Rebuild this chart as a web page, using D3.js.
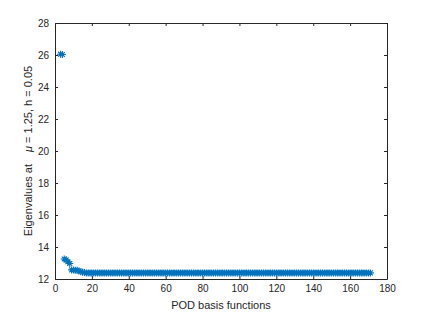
<!DOCTYPE html>
<html>
<head>
<meta charset="utf-8">
<script src="https://cdn.jsdelivr.net/npm/d3@7"></script>
<style>
  body { margin: 0; background: #fff; }
  text { font-family: "Liberation Sans", Arial, sans-serif; }
</style>
</head>
<body>
<svg id="figure"></svg>
<script>
var fullWidth = 428;
var fullHeight = 315;

var margin = { top: 23, right: 41, bottom: 36, left: 55 };
var width = fullWidth - margin.left - margin.right;
var height = fullHeight - margin.top - margin.bottom;

// eigenvalue index of the first point
var firstIndex = 3;

var eigenValues = [
  26.05, 26.03, 13.25, 13.20, 13.08, 12.97, 12.57, 12.56, 12.55, 12.54,
  12.50, 12.46, 12.42, 12.40, 12.38, 12.38, 12.38, 12.38, 12.38, 12.38,
  12.38, 12.38, 12.38, 12.38, 12.38, 12.38, 12.38, 12.38, 12.38, 12.38,
  12.38, 12.38, 12.38, 12.38, 12.38, 12.38, 12.38, 12.38, 12.38, 12.38,
  12.38, 12.38, 12.38, 12.38, 12.38, 12.38, 12.38, 12.38, 12.38, 12.38,
  12.38, 12.38, 12.38, 12.38, 12.38, 12.38, 12.38, 12.38, 12.38, 12.38,
  12.38, 12.38, 12.38, 12.38, 12.38, 12.38, 12.38, 12.38, 12.38, 12.38,
  12.38, 12.38, 12.38, 12.38, 12.38, 12.38, 12.38, 12.38, 12.38, 12.38,
  12.38, 12.38, 12.38, 12.38, 12.38, 12.38, 12.38, 12.38, 12.38, 12.38,
  12.38, 12.38, 12.38, 12.38, 12.38, 12.38, 12.38, 12.38, 12.38, 12.38,
  12.38, 12.38, 12.38, 12.38, 12.38, 12.38, 12.38, 12.38, 12.38, 12.38,
  12.38, 12.38, 12.38, 12.38, 12.38, 12.38, 12.38, 12.38, 12.38, 12.38,
  12.38, 12.38, 12.38, 12.38, 12.38, 12.38, 12.38, 12.38, 12.38, 12.38,
  12.38, 12.38, 12.38, 12.38, 12.38, 12.38, 12.38, 12.38, 12.38, 12.38,
  12.38, 12.38, 12.38, 12.38, 12.38, 12.38, 12.38, 12.38, 12.38, 12.38,
  12.38, 12.38, 12.38, 12.38, 12.38, 12.38, 12.38, 12.38, 12.38, 12.38,
  12.38, 12.38, 12.38, 12.38, 12.38, 12.38, 12.38, 12.38, 12.38
];

var xTicks = [0, 20, 40, 60, 80, 100, 120, 140, 160, 180];
var yTicks = [12, 14, 16, 18, 20, 22, 24, 26, 28];

var axisColor = "#262626";
var markerColor = "#0072BD";

var svg = d3.select("#figure")
    .attr("width", fullWidth)
    .attr("height", fullHeight)
    .append("g")
    .attr("transform", "translate(" + margin.left + "," + margin.top + ")");

var xRange = d3.scaleLinear().domain([0, 180]).range([0, width]);
var yRange = d3.scaleLinear().domain([12, 28]).range([height, 0]);

// ticks point inward on all four sides, like a boxed matlab axes
var xAxis = d3.axisBottom(xRange).tickValues(xTicks).tickSizeInner(-3).tickSizeOuter(0).tickPadding(6);
var yAxis = d3.axisLeft(yRange).tickValues(yTicks).tickSizeInner(-3).tickSizeOuter(0).tickPadding(6);
var xTop = d3.axisTop(xRange).tickValues(xTicks).tickSizeInner(-3).tickSizeOuter(0).tickFormat("");
var yRight = d3.axisRight(yRange).tickValues(yTicks).tickSizeInner(-3).tickSizeOuter(0).tickFormat("");

function styleAxis(g) {
    g.selectAll("path").attr("stroke", axisColor).attr("stroke-width", 1);
    g.selectAll("line").attr("stroke", axisColor);
    g.selectAll("text").attr("fill", axisColor).style("font-size", "10px")
        .style("font-family", "'Liberation Sans', Arial, sans-serif");
}

svg.append("g").attr("transform", "translate(0," + height + ")").call(xAxis).call(styleAxis);
svg.append("g").call(yAxis).call(styleAxis);
svg.append("g").call(xTop).call(styleAxis);
svg.append("g").attr("transform", "translate(" + width + ",0)").call(yRight).call(styleAxis);

// star markers: plus plus cross
var r = 3.5;
var star = "M" + (-r) + ",0H" + r + "M0," + (-r) + "V" + r +
    "M" + (-r * 0.7) + "," + (-r * 0.7) + "L" + (r * 0.7) + "," + (r * 0.7) +
    "M" + (-r * 0.7) + "," + (r * 0.7) + "L" + (r * 0.7) + "," + (-r * 0.7);

svg.append("g").selectAll("path")
    .data(eigenValues)
    .enter().append("path")
    .attr("d", star)
    .attr("transform", function (d, i) {
        return "translate(" + xRange(i + firstIndex) + "," + yRange(d) + ")";
    })
    .attr("fill", "none")
    .attr("stroke", markerColor)
    .attr("stroke-width", 1.1);

svg.append("text")
    .text("POD basis functions")
    .attr("x", width / 2)
    .attr("y", height + 30)
    .attr("text-anchor", "middle")
    .attr("fill", axisColor)
    .style("font-size", "11px");

var yLabel = svg.append("text")
    .attr("transform", "translate(-23," + (height / 2) + ") rotate(-90)")
    .attr("text-anchor", "middle")
    .attr("fill", axisColor)
    .style("font-size", "11px");
yLabel.append("tspan").text("Eigenvalues at");
yLabel.append("tspan").attr("dx", 12).style("font-style", "italic").text("\u03bc");
yLabel.append("tspan").text(" = 1.25, h = 0.05");
</script>
</body>
</html>
